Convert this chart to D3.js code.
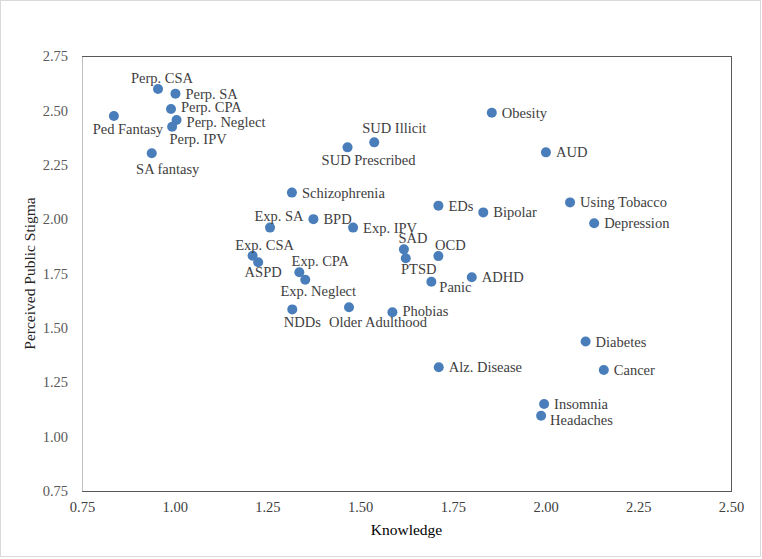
<!DOCTYPE html>
<html>
<head>
<meta charset="utf-8">
<script src="https://cdn.jsdelivr.net/npm/d3@7"></script>
<style>
    body { margin: 0; background: #fff; }
    text { font-family: "Liberation Serif", "Times New Roman", serif; }
</style>
</head>
<body>
<div id="myDiv"></div>
<script>
// Chart data: one entry per condition
var names = ["Perp. CSA", "Perp. SA", "Perp. CPA", "Perp. Neglect", "Perp. IPV", "Ped Fantasy", "SA fantasy",
    "SUD Illicit", "SUD Prescribed", "Schizophrenia", "EDs", "Bipolar", "Exp. SA", "BPD", "Exp. IPV",
    "SAD", "PTSD", "OCD", "ADHD", "Panic", "Phobias", "Diabetes", "Alz. Disease", "Cancer", "Insomnia",
    "Headaches", "Obesity", "AUD", "Using Tobacco", "Depression", "Exp. CSA", "ASPD", "Exp. CPA",
    "Exp. Neglect", "NDDs", "Older Adulthood"];
var knowledge = [0.955, 1.002, 0.990, 1.005, 0.993, 0.836, 0.938,
    1.538, 1.466, 1.316, 1.711, 1.832, 1.257, 1.374, 1.481,
    1.618, 1.623, 1.711, 1.801, 1.692, 1.587, 2.108, 1.712, 2.157, 1.996,
    1.988, 1.855, 2.001, 2.066, 2.131, 1.210, 1.225, 1.336,
    1.352, 1.317, 1.470];
var stigma = [2.598, 2.577, 2.506, 2.456, 2.425, 2.474, 2.303,
    2.353, 2.330, 2.122, 2.062, 2.031, 1.961, 2.000, 1.961,
    1.861, 1.820, 1.830, 1.733, 1.712, 1.572, 1.437, 1.319, 1.306, 1.150,
    1.096, 2.489, 2.307, 2.077, 1.981, 1.832, 1.802, 1.756,
    1.721, 1.585, 1.595];
var xTicks = [0.75, 1.00, 1.25, 1.50, 1.75, 2.00, 2.25, 2.50];
var yTicks = [0.75, 1.00, 1.25, 1.50, 1.75, 2.00, 2.25, 2.50, 2.75];

// Label placement (anchor, dx, dy from point); default is to the right
var labelPlace = {
    "Perp. CSA": ["middle", 4, -11],
    "Perp. CPA": ["start", 10, -2],
    "Perp. Neglect": ["start", 10, 2],
    "Perp. IPV": ["middle", 26, 12],
    "Ped Fantasy": ["middle", 14, 13],
    "SA fantasy": ["middle", 16, 16],
    "SUD Illicit": ["middle", 20, -14],
    "SUD Prescribed": ["middle", 21, 13],
    "Exp. SA": ["middle", 9, -12],
    "SAD": ["middle", 9, -11],
    "PTSD": ["middle", 13, 11],
    "OCD": ["middle", 12, -11],
    "Panic": ["start", 8, 5],
    "Phobias": ["start", 10, -1],
    "Headaches": ["start", 9, 4],
    "Exp. CSA": ["middle", 12, -11],
    "ASPD": ["middle", 5, 10],
    "Exp. CPA": ["middle", 21, -11],
    "Exp. Neglect": ["middle", 13, 11],
    "NDDs": ["middle", 10, 13],
    "Older Adulthood": ["middle", 29, 15]
};

var width = 762, height = 559;
var margin = { top: 56, right: 31, bottom: 68, left: 82 };

var svg = d3.select("#myDiv")
    .append("svg")
    .attr("width", width)
    .attr("height", height);

// outer chart border
svg.append("rect")
    .attr("x", 0.5).attr("y", 0.5)
    .attr("width", width - 2).attr("height", height - 3)
    .attr("fill", "#fff")
    .attr("stroke", "#d9d9d9");

var x = d3.scaleLinear().domain([0.75, 2.5]).range([margin.left, width - margin.right]);
var y = d3.scaleLinear().domain([0.75, 2.75]).range([height - margin.bottom, margin.top]);

// plot area border
svg.append("rect")
    .attr("x", x(0.75) + 0.5).attr("y", y(2.75) + 0.5)
    .attr("width", x(2.5) - x(0.75)).attr("height", y(0.75) - y(2.75))
    .attr("fill", "none")
    .attr("stroke", "#595959");
svg.append("line")
    .attr("x1", x(0.75) + 0.5).attr("x2", x(0.75) + 0.5)
    .attr("y1", y(2.75) + 1).attr("y2", y(0.75))
    .attr("stroke", "#bfbfbf");

// axes
var xAxis = svg.append("g")
    .attr("transform", "translate(0," + y(0.75) + ")")
    .call(d3.axisBottom(x).tickValues(xTicks).tickSize(0).tickPadding(11).tickFormat(d3.format(".2f")));
xAxis.select(".domain").remove();
xAxis.selectAll("text").attr("font-size", "14.5px").attr("fill", "#404040")
    .style("font-family", "'Liberation Serif', serif");

var yAxis = svg.append("g")
    .attr("transform", "translate(" + x(0.75) + ",0)")
    .call(d3.axisLeft(y).tickValues(yTicks).tickSize(0).tickPadding(14).tickFormat(d3.format(".2f")));
yAxis.select(".domain").remove();
yAxis.selectAll("text").attr("font-size", "14.5px").attr("fill", "#595959")
    .style("font-family", "'Liberation Serif', serif");

// axis titles
svg.append("text")
    .attr("x", (x(0.75) + x(2.5)) / 2)
    .attr("y", 535)
    .attr("text-anchor", "middle")
    .attr("font-size", "15.5px")
    .attr("fill", "#000")
    .text("Knowledge");

svg.append("text")
    .attr("transform", "translate(35," + (y(0.75) + y(2.75)) / 2 + ") rotate(-90)")
    .attr("text-anchor", "middle")
    .attr("font-size", "15.5px")
    .attr("fill", "#262626")
    .text("Perceived Public Stigma");

var data = names.map(function (n, i) {
    return { name: n, x: knowledge[i], y: stigma[i] };
});

// points
svg.selectAll("circle.pt")
    .data(data)
    .enter().append("circle")
    .attr("class", "pt")
    .attr("cx", function (d) { return x(d.x); })
    .attr("cy", function (d) { return y(d.y); })
    .attr("r", 5)
    .attr("fill", "#4a7ebb");

// point labels
svg.selectAll("text.lbl")
    .data(data)
    .enter().append("text")
    .attr("class", "lbl")
    .each(function (d) {
        var p = labelPlace[d.name] || ["start", 10, 0];
        d3.select(this)
            .attr("text-anchor", p[0])
            .attr("x", x(d.x) + p[1])
            .attr("y", y(d.y) + p[2])
            .attr("dy", "0.35em");
    })
    .attr("font-size", "14.5px")
    .attr("fill", "#404040")
    .text(function (d) { return d.name; });
</script>
</body>
</html>
